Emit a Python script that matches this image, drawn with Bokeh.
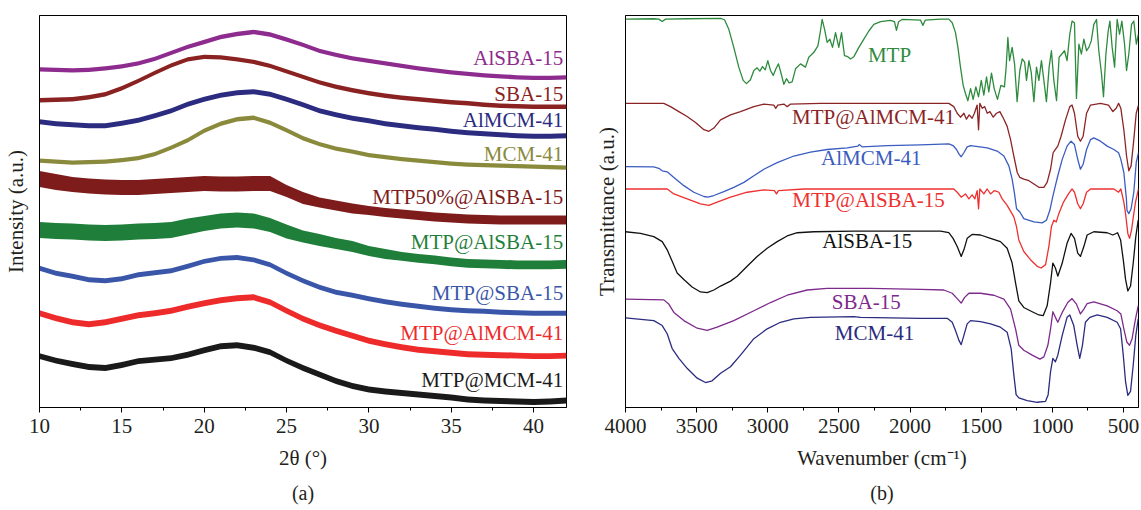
import numpy as np
from bokeh.plotting import figure
from bokeh.layouts import row
from bokeh.models import Range1d, SingleIntervalTicker, FixedTicker, Label, Title
from bokeh.embed import file_html
from bokeh.resources import INLINE

# ---------------- (a) XRD data ----------------
theta = [10, 11, 12, 13, 14, 15, 16, 17, 18, 19, 20, 21, 22, 23, 24, 25, 26,
         27, 28, 29, 30, 31, 32, 33, 34, 35, 36, 37, 38, 39, 40, 41, 42]

xrd_alsba15 = [339, 338.5, 338, 338.5, 340, 342, 345, 349.5, 355.5, 361.5,
               366.5, 371.5, 374.5, 376.5, 374, 369, 363.5, 357.5, 353.5, 350,
               347.5, 345, 342.5, 340, 338, 336, 334.5, 333, 332, 331,
               330.5, 330.5, 331]
xrd_sba15 = [308, 308.5, 309, 311, 314, 320, 327.5, 335.5, 343, 349,
             351.5, 351, 349, 346.5, 342.5, 337, 331.5, 326, 321.5, 318,
             315, 312.5, 310.5, 309, 307.5, 306, 305, 303.5, 302.5, 302,
             301.5, 301.5, 301.5]
xrd_almcm41 = [286.5, 284.5, 283.5, 282.5, 282.5, 285, 288, 292.5, 297.5, 304,
               309, 313, 315.5, 316.5, 314, 309, 303.5, 297.5, 293.5, 290,
               287.5, 284.5, 282.5, 280.5, 279, 277, 275.5, 274.5, 273.5, 272.5,
               272, 272, 272.5]
xrd_mcm41 = [247.5, 246.5, 245.5, 246, 246.5, 248, 250, 254, 260.5, 268,
             277.5, 284.5, 289, 290.5, 285.5, 278, 270, 264, 259.5, 256.5,
             253, 251, 249, 247.5, 246, 244.5, 243.5, 243, 242.5, 242,
             241.5, 241, 240.5]
xrd_mtp50_alsba15 = [229, 226, 223.5, 222, 221, 220.5, 220.5, 221.5, 222.5, 223.5,
                     224.5, 224, 224, 224.5, 224.5, 217, 210, 205.5, 202.5, 199.5,
                     197.5, 195.5, 194, 192.5, 191, 190, 189, 188.5, 188, 188,
                     188, 188, 188]
xrd_mtp_alsba15 = [178, 177, 176.5, 175.5, 175, 175.5, 176.5, 177, 178, 181.5,
                   184.5, 187, 188, 187, 183, 176.5, 171.5, 168, 164.5, 161.5,
                   157, 154, 151.5, 149.5, 148, 146, 144.5, 144, 143.5, 143,
                   143, 143, 143.5]
xrd_mtp_sba15 = [139.5, 134.5, 131.5, 128, 127, 129, 133, 135, 137, 141.5,
                 146.5, 149.5, 150.5, 148, 143, 134.5, 127, 120.5, 115.5, 112.5,
                 109, 106, 103.5, 101.5, 99.5, 98, 97, 96.5, 95.5, 95,
                 94.5, 94.5, 94.5]
xrd_mtp_almcm41 = [94.5, 89.5, 85.5, 83.5, 85.5, 89, 92.5, 94.5, 97, 101,
                   104.5, 107.5, 109.5, 110.5, 105.5, 97, 89, 82.5, 77, 72,
                   67, 63.5, 60.5, 58, 56.5, 55, 53.5, 53, 52.5, 52,
                   51.5, 51.5, 52]
xrd_mtp_mcm41 = [51.5, 47, 43.5, 40.5, 39.5, 42.5, 46.5, 48, 49.5, 53,
                 57.5, 61.5, 62.5, 60, 55.5, 47, 39.5, 33, 26.5, 21.5,
                 18, 16, 14.5, 13, 11.5, 10, 8, 7, 6.5, 6,
                 5.5, 6, 7]

# noise half-amplitude of each pattern (a.u.)
noise_mtp50_alsba15 = [8, 8, 7.5, 7.5, 7.5, 7.5, 7.5, 7.5, 7.5, 7.5, 7.5, 7.5, 7.5, 7.5, 7.5, 6, 6, 5, 5, 5,
                       4.5, 4.5, 4.5, 4.5, 4.5, 4.5, 4.5, 4.5, 4.5, 4.5, 4.5, 4.5, 4.5]
noise_mtp_alsba15 = [8, 8, 8, 8, 8, 8, 8, 8, 8, 8, 7.5, 7.5, 7.5, 7.5, 7, 7, 6, 6, 5.5, 5.5,
                     5, 5, 4.5, 4.5, 4.5, 4.5, 4.5, 4.5, 4.5, 4.5, 4.5, 4.5, 4.5]

xrd_names = ["AlSBA-15", "SBA-15", "AlMCM-41", "MCM-41", "MTP50%@AlSBA-15",
             "MTP@AlSBA-15", "MTP@SBA-15", "MTP@AlMCM-41", "MTP@MCM-41"]
xrd_series = [xrd_alsba15, xrd_sba15, xrd_almcm41, xrd_mcm41, xrd_mtp50_alsba15,
              xrd_mtp_alsba15, xrd_mtp_sba15, xrd_mtp_almcm41, xrd_mtp_mcm41]
xrd_noise = [2.2, 2.2, 2.5, 2.2, noise_mtp50_alsba15, noise_mtp_alsba15, 2.5, 3, 3]
xrd_colors = ["#8E2B8E", "#8B2222", "#2B2B80", "#8A8A3C", "#7E1C1C",
              "#1F7F3A", "#3A56A8", "#EE2B2B", "#1A1A1A"]
xrd_label_y = [350.7, 314, 288, 254, 210.7, 166.3, 114.7, 74.7, 28]

# ---------------- (b) FTIR data ----------------
w_mtp = [4000, 3801, 3766, 3742, 3719, 3567, 3332, 3304, 3274, 3239,
         3204, 3173, 3150, 3122, 3098, 3075, 3056, 3037, 3018, 3000,
         2981, 2962, 2943, 2925, 2906, 2887, 2869, 2850, 2829, 2805,
         2770, 2735, 2712, 2676, 2648, 2630, 2618, 2601, 2583, 2564,
         2545, 2524, 2501, 2482, 2461, 2438, 2419, 2395, 2360, 2325,
         2290, 2255, 2208, 2138, 2110, 2096, 2081, 2056, 1927, 1910,
         1894, 1786, 1728, 1704, 1681, 1664, 1646, 1627, 1611, 1594,
         1575, 1557, 1538, 1519, 1500, 1482, 1463, 1447, 1428, 1409,
         1386, 1362, 1337, 1325, 1313, 1301, 1283, 1266, 1248, 1229,
         1212, 1195, 1182, 1165, 1149, 1130, 1112, 1095, 1077, 1060,
         1042, 1023, 1007, 990, 971, 953, 934, 915, 897, 878,
         862, 845, 831, 814, 796, 779, 760, 744, 727, 709,
         690, 674, 655, 641, 624, 608, 596, 580, 563, 545,
         528, 512, 493, 479, 463, 444, 428, 410, 396]
t_mtp = [393.3, 393.7, 393.3, 391, 393.3, 393.7, 394, 392.7, 383, 364.7,
         344.7, 331.3, 328, 332, 341.3, 344, 340.7, 345.3, 342, 351.3,
         341.3, 336.3, 343, 348, 338, 327.3, 333, 328.7, 329.7, 343,
         348, 344.7, 354.7, 359.7, 366.3, 381.3, 393, 383, 369.7, 373,
         364.7, 379.7, 364.7, 379.7, 356.3, 355.3, 353, 355.3, 364.7, 373,
         381.3, 388, 390.7, 392, 390.7, 382, 390.7, 393, 392.3, 387,
         392.3, 393.3, 393.3, 389.7, 379.7, 364.7, 344.7, 326.3, 318, 310.7,
         323, 312, 324.7, 314.7, 331.3, 316.3, 334.7, 319.7, 338.7, 323,
         312, 326.3, 324.7, 344.7, 374.7, 351.3, 364.7, 348, 309.7, 341.3,
         353, 349.7, 331.3, 351.3, 339.7, 309.7, 344.7, 331.3, 351.3, 331.3,
         309.7, 344.7, 361.3, 331.3, 310.7, 354.7, 358, 361.3, 351.3, 378,
         391.3, 389.7, 313, 368, 358, 373, 361.3, 364.7, 371.3, 388,
         393, 361.3, 338, 314.7, 358, 381.3, 391.3, 364.7, 344.7, 393,
         378, 391.3, 368, 341.3, 358, 388, 391.3, 368, 378]

w_mtp_almcm41 = [4000, 3731, 3684, 3625, 3567, 3508, 3449, 3414, 3379, 3332,
                 3262, 3192, 3098, 3028, 2958, 2944, 2930, 2887, 2864, 2840,
                 2630, 2161, 1728, 1693, 1669, 1646, 1622, 1604, 1585, 1564,
                 1548, 1529, 1519, 1510, 1493, 1476, 1458, 1439, 1416, 1393,
                 1369, 1341, 1318, 1294, 1271, 1247, 1229, 1201, 1165, 1130,
                 1095, 1060, 1037, 1013, 995, 979, 962, 939, 908, 878,
                 862, 845, 822, 803, 784, 760, 732, 662, 606, 575,
                 552, 535, 519, 498, 479, 463, 447, 428, 411, 395]
t_mtp_almcm41 = [308, 308, 304.7, 299.7, 294.7, 288.7, 281.3, 279.7, 283, 291.3,
                 296.3, 299.7, 304.7, 307.3, 306.3, 303, 306.3, 307.3, 304.7, 307.3,
                 308, 308, 308, 304.7, 298, 294, 298, 292, 296.3, 293,
                 298, 306.3, 281.3, 308, 303, 304.7, 298, 299.7, 294, 298,
                 299.7, 292, 284.7, 271.3, 254.7, 238, 233, 231.3, 229.7, 226.3,
                 223, 223, 228, 241.3, 258, 261.3, 264.7, 274.7, 291.3, 304.7,
                 306.3, 298, 274.7, 269.7, 274.7, 298, 306.3, 308, 306.3, 299.7,
                 303, 308, 303, 281.3, 254.7, 239.7, 244.7, 271.3, 298, 306.3]

w_almcm41 = [4000, 3801, 3766, 3742, 3707, 3660, 3590, 3520, 3449, 3421,
             3379, 3309, 3239, 3168, 3098, 3028, 2934, 2817, 2700, 2583,
             2442, 2367, 2358, 2337, 2161, 1927, 1728, 1698, 1674, 1655,
             1641, 1622, 1599, 1575, 1458, 1388, 1341, 1306, 1283, 1266,
             1252, 1229, 1201, 1130, 1072, 1042, 1018, 1001, 979, 962,
             931, 897, 869, 845, 822, 803, 784, 760, 732, 709,
             662, 615, 568, 535, 519, 498, 480, 476, 463, 447,
             428, 411, 395]
t_almcm41 = [244, 243.7, 242.3, 239.7, 238.7, 233, 224.7, 218, 213.7, 213,
             214.7, 218.7, 223, 228, 234.7, 241.3, 248, 254.7, 258.7, 261.3,
             263, 264.7, 266.3, 264, 265.3, 266, 267, 265.3, 261.3, 256.3,
             254, 258, 264, 265.3, 263, 259.7, 254.7, 244.7, 231.3, 216.3,
             201.3, 198, 191.3, 188, 187, 189.7, 199.7, 211.3, 224.7, 234.7,
             251.3, 264.7, 269.7, 266.3, 251.3, 241.3, 246.3, 261.3, 271.3, 273,
             269.7, 264.7, 261.3, 258, 251.3, 238, 211.3, 199.7, 196.3, 201.3,
             218, 248, 258]

w_mtp_alsba15 = [4000, 3707, 3660, 3567, 3473, 3414, 3356, 3262, 3145, 3028,
                 2953, 2939, 2925, 2747, 1693, 1669, 1641, 1611, 1587, 1564,
                 1545, 1529, 1519, 1510, 1482, 1458, 1435, 1407, 1376, 1353,
                 1318, 1271, 1252, 1236, 1201, 1154, 1107, 1079, 1048, 1025,
                 1007, 990, 973, 955, 922, 887, 862, 845, 822, 803,
                 784, 760, 732, 568, 535, 519, 498, 486, 470, 458,
                 444, 428, 416, 395]
t_mtp_alsba15 = [221.3, 221.3, 216.3, 211.3, 206.3, 204.7, 208, 213, 218, 220.3,
                 219.7, 216.3, 219.7, 221.3, 221.3, 218, 213, 216.3, 211.3, 215.3,
                 211.3, 219.7, 201.3, 221.3, 216.3, 221.3, 216.3, 219.7, 218, 211.3,
                 204.7, 193, 183, 169.7, 158, 149.7, 143, 141.3, 144.7, 163,
                 183, 189.7, 188, 196.3, 208, 216.3, 221.3, 218, 206.3, 201.3,
                 206.3, 218, 221.3, 221.3, 218, 221.3, 208, 196.3, 176.3, 171.3,
                 179.7, 196.3, 208, 221.3]

w_alsba15 = [4000, 3895, 3801, 3742, 3707, 3672, 3637, 3590, 3532, 3473,
             3426, 3379, 3332, 3262, 3215, 3145, 3075, 3004, 2934, 2864,
             2793, 2676, 2395, 1927, 1786, 1728, 1698, 1669, 1641, 1622,
             1599, 1564, 1505, 1435, 1365, 1318, 1283, 1259, 1236, 1201,
             1142, 1095, 1065, 1037, 1013, 997, 979, 962, 931, 897,
             869, 845, 822, 803, 779, 756, 709, 615, 575, 542,
             521, 502, 486, 470, 451, 432, 414, 397]
t_alsba15 = [178, 176.3, 173, 168, 159.7, 148, 136.3, 129.7, 122, 117,
             116.3, 119, 123, 128, 133, 143, 153, 161.3, 168, 173.7,
             177, 178, 178.7, 178.7, 178.7, 177, 171.3, 163, 153, 159.7,
             171.3, 175.3, 174.7, 171.3, 168, 161.3, 146.3, 126.3, 108, 101.3,
             97, 93.7, 93, 103, 126.3, 146.3, 141.3, 133, 146.3, 166.3,
             176.3, 171.3, 156.3, 153, 163, 174.7, 178, 177, 174.7, 177,
             169.7, 149.7, 129.7, 118, 123, 146.3, 173, 189.7]

w_sba15 = [4000, 3731, 3696, 3660, 3590, 3496, 3426, 3356, 3239, 3098,
           2981, 2864, 2723, 2583, 2278, 1927, 1763, 1704, 1669, 1641,
           1618, 1587, 1505, 1411, 1341, 1294, 1259, 1236, 1201, 1142,
           1088, 1060, 1032, 1013, 997, 979, 962, 931, 892, 862,
           831, 803, 779, 756, 709, 615, 545, 519, 498, 477,
           458, 440, 416, 397]
t_sba15 = [109.7, 109, 104.7, 96.3, 88, 80.3, 78, 81.3, 88, 98,
           106.3, 113.7, 119, 120.7, 120.7, 119.7, 119, 115.7, 110.3, 105.7,
           111.3, 115.7, 115.7, 113.7, 109.7, 99.7, 79.7, 63, 58, 53,
           49, 51.3, 63, 79.7, 97, 91.3, 86.3, 96.3, 106.3, 110.3,
           104.7, 94.7, 99.7, 105.3, 107, 103, 98, 94.7, 79.7, 66.3,
           63, 69.7, 89.7, 103]

w_mcm41 = [4000, 3801, 3742, 3707, 3672, 3625, 3567, 3496, 3438, 3391,
           3332, 3262, 3192, 3098, 3004, 2911, 2817, 2700, 2395, 2348,
           1927, 1739, 1704, 1681, 1657, 1641, 1622, 1599, 1575, 1505,
           1435, 1365, 1318, 1290, 1271, 1255, 1236, 1177, 1107, 1048,
           1030, 1013, 997, 979, 962, 931, 897, 878, 850, 826,
           808, 789, 768, 737, 685, 615, 545, 521, 502, 486,
           470, 451, 432, 414, 397]
t_mcm41 = [90.7, 88, 83, 74.7, 59.7, 49.7, 39.7, 29.7, 25.3, 27,
           34.7, 41.3, 53, 69.7, 79.7, 86.3, 89.7, 91.3, 92, 91.3,
           90.3, 90.3, 86.3, 78, 68, 63.7, 73, 84.7, 88, 87,
           84.7, 81.3, 76.3, 59.7, 33, 13, 9.7, 7, 5.3, 6.3,
           13, 36.3, 49.7, 46.3, 53, 73, 91.3, 93.7, 83, 63,
           49.7, 63, 86.3, 91.3, 93.7, 91.3, 86.3, 79.7, 53, 26.3,
           12.3, 16.3, 43, 73, 89.7]

ftir_names = ["MTP", "MTP@AlMCM-41", "AlMCM-41", "MTP@AlSBA-15", "AlSBA-15", "SBA-15", "MCM-41"]
ftir_x = [w_mtp, w_mtp_almcm41, w_almcm41, w_mtp_alsba15, w_alsba15, w_sba15, w_mcm41]
ftir_y = [t_mtp, t_mtp_almcm41, t_almcm41, t_mtp_alsba15, t_alsba15, t_sba15, t_mcm41]
ftir_colors = ["#2E8B3E", "#8B2525", "#3B5CC0", "#EE3030", "#111111", "#7D2A8C", "#2B2B80"]
ftir_label_x = [2145, 2257, 2273, 2292, 2301, 2308, 2250]
ftir_label_y = [357.3, 294, 252.3, 210, 168.3, 107, 75]

SERIF = "Liberation Serif"
TXT = "#231F20"


def style(p, interval, ylabel_standoff):
    p.xgrid.visible = False
    p.ygrid.visible = False
    p.outline_line_color = "black"
    p.outline_line_alpha = 1.0
    p.outline_line_width = 1
    p.background_fill_color = "white"
    p.border_fill_color = "white"
    ax = p.xaxis[0]
    ax.ticker = SingleIntervalTicker(interval=interval, num_minor_ticks=2)
    ax.major_tick_in = 0
    ax.major_tick_out = 5
    ax.minor_tick_in = 0
    ax.minor_tick_out = 3
    ax.axis_line_color = "black"
    ax.major_tick_line_color = "black"
    ax.minor_tick_line_color = "black"
    ax.major_label_text_font = SERIF
    ax.major_label_text_font_size = "21px"
    ax.major_label_text_color = TXT
    ax.major_label_standoff = 6
    ax.axis_label_text_font = SERIF
    ax.axis_label_text_font_size = "21px"
    ax.axis_label_text_font_style = "normal"
    ax.axis_label_text_color = TXT
    ax.axis_label_standoff = 10
    ay = p.yaxis[0]
    ay.ticker = FixedTicker(ticks=[], minor_ticks=[])
    ay.axis_line_color = "black"
    ay.major_tick_line_color = None
    ay.minor_tick_line_color = None
    ay.major_label_text_font_size = "0px"
    ay.axis_label_text_font = SERIF
    ay.axis_label_text_font_size = "21px"
    ay.axis_label_text_font_style = "normal"
    ay.axis_label_text_color = TXT
    ay.axis_label_standoff = ylabel_standoff


def caption(p, text):
    p.add_layout(Title(text=text, align="center", text_font=SERIF, text_font_size="20px",
                       text_font_style="normal", text_color=TXT, standoff=14, offset=0), "below")


# ---------------- panel (a) ----------------
p1 = figure(width=580, height=510, output_backend="svg", toolbar_location=None,
            x_range=Range1d(10, 42), y_range=Range1d(0, 393),
            min_border_left=39, min_border_right=14, min_border_top=15, min_border_bottom=102,
            x_axis_label="2θ (°)", y_axis_label="Intensity (a.u.)")
style(p1, 5, 12)
caption(p1, "(a)")

th = np.array(theta, dtype=float)
for name, vals, nz, col, ly in zip(xrd_names, xrd_series, xrd_noise, xrd_colors, xrd_label_y):
    v = np.array(vals, dtype=float)
    a = np.array(nz, dtype=float) if isinstance(nz, list) else nz
    p1.varea(x=th, y1=v - a, y2=v + a, fill_color=col, fill_alpha=1.0)
    p1.add_layout(Label(x=41.8, y=ly, text=name, text_align="right", text_baseline="middle",
                        text_font=SERIF, text_font_size="21px", text_color=col))

# ---------------- panel (b) ----------------
p2 = figure(width=561, height=510, output_backend="svg", toolbar_location=None,
            x_range=Range1d(4000, 395), y_range=Range1d(0, 397),
            min_border_left=45, min_border_right=3, min_border_top=11, min_border_bottom=102,
            x_axis_label="Wavenumber (cm⁻¹)", y_axis_label="Transmittance (a.u.)")
style(p2, 500, 7)
caption(p2, "(b)")

for name, xs, ys, col, lx, ly in zip(ftir_names, ftir_x, ftir_y, ftir_colors, ftir_label_x, ftir_label_y):
    p2.line(xs, ys, line_color=col, line_width=1.3, line_join="round")
    p2.add_layout(Label(x=lx, y=ly, text=name, text_align="center", text_baseline="middle",
                        text_font=SERIF, text_font_size="21px", text_color=col))

layout = row(p1, p2)
open("out.html", "w").write(file_html(layout, INLINE))
